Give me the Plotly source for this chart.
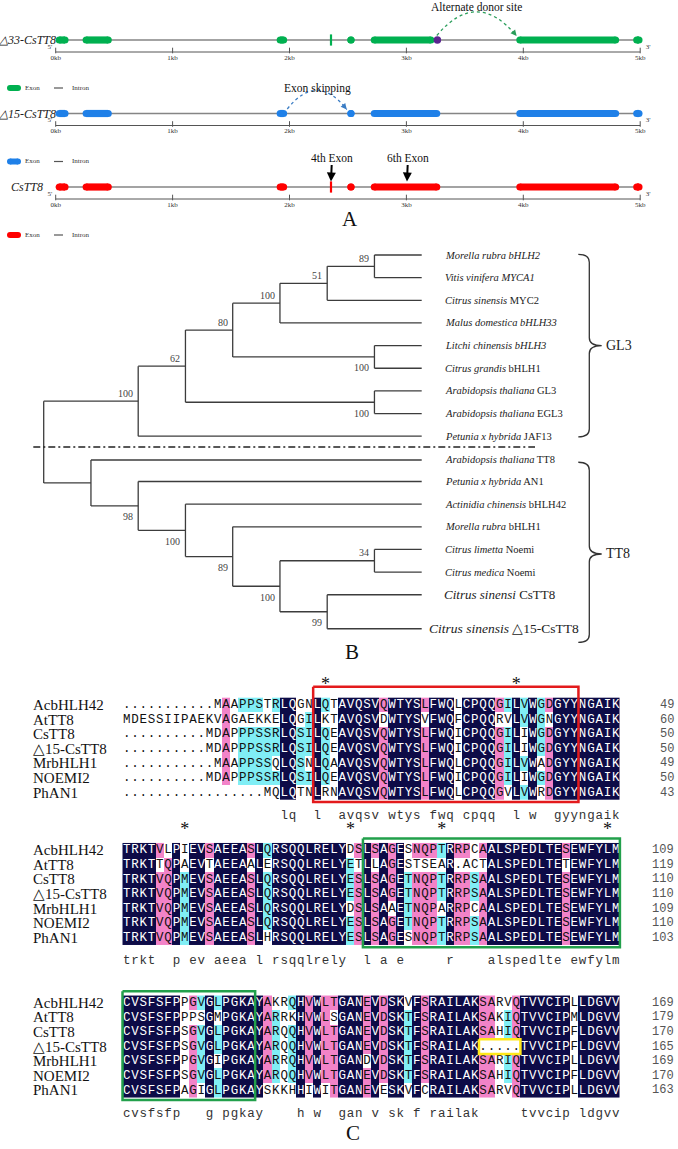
import plotly.graph_objects as go

# ======================= DATA =======================
# ---- Panel A: gene structures (kb) ----
isoform_names = ["△33-CsTT8", "△15-CsTT8", "CsTT8"]
isoform_colors = ["#00b050", "#1f80e8", "#ff0000"]
exon_start_kb = [
    [0.00, 0.23, 1.89, 2.495, 2.695, 3.94, 4.94],
    [0.00, 0.23, 1.89, 2.495, 2.695, 3.94, 4.94],
    [0.00, 0.23, 1.89, 2.495, 2.695, 3.94, 4.94],
]
exon_end_kb = [
    [0.11, 0.48, 1.98, 2.555, 3.24, 4.82, 5.02],
    [0.11, 0.48, 1.98, 2.555, 3.29, 4.82, 5.02],
    [0.11, 0.48, 1.98, 2.555, 3.29, 4.82, 5.02],
]
micro_exon_kb = [[2.355], [], [2.355]]
donor_site_kb = [[3.265], [], []]
gene_length_kb = [5.0, 5.0, 5.0]
scale_ticks_kb = [0, 1, 2, 3, 4, 5]
scale_tick_labels = ["0kb", "1kb", "2kb", "3kb", "4kb", "5kb"]
event_labels = ["Alternate donor site", "Exon skipping"]
event_track = [0, 1]
event_from_kb = [3.26, 1.981]
event_to_kb = [3.943, 2.49]
pointer_labels = ["4th Exon", "6th Exon"]
pointer_kb = [2.355, 3.005]
pointer_track = [2, 2]

# ---- Panel B: phylogenetic tree ----
leaf_labels = [
    "<i>Morella rubra bHLH2</i>", "<i>Vitis vinifera MYCA1</i>",
    "<i>Citrus sinensis</i> MYC2", "<i>Malus domestica bHLH33</i>",
    "<i>Litchi chinensis bHLH3</i>", "<i>Citrus grandis</i> bHLH1",
    "<i>Arabidopsis thaliana</i> GL3", "<i>Arabidopsis thaliana</i> EGL3",
    "<i>Petunia x hybrida</i> JAF13",
    "<i>Arabidopsis thaliana</i> TT8", "<i>Petunia x hybrida</i> AN1",
    "<i>Actinidia chinensis</i> bHLH42", "<i>Morella rubra</i> bHLH1",
    "<i>Citrus limetta</i> Noemi", "<i>Citrus medica</i> Noemi",
    "<i>Citrus sinensi</i> CsTT8", "<i>Citrus sinensis</i> △15-CsTT8",
]
leaf_slot = [0, 1, 2, 3, 4, 5, 6, 7, 8, 9.05, 10, 11, 12, 13, 14, 15, 16.5]
leaf_parent = ["n89", "n89", "n51", "n100b", "nLi", "nLi", "nAt", "nAt", "n100a",
               "nT", "n98", "n100c", "n89b", "n34", "n34", "n99", "n99"]
node_ids = ["root", "n100a", "n62", "n80", "n100b", "n51", "n89", "nLi", "nAt",
            "nT", "n98", "n100c", "n89b", "n100d", "n34", "n99"]
node_depth = [0, 2, 3, 4, 5, 6, 7, 7, 7, 1, 2, 3, 4, 5, 7, 6]
node_parent = [None, "root", "n100a", "n62", "n80", "n100b", "n51", "n80", "n62",
               "root", "nT", "n98", "n100c", "n89b", "n100d", "n100d"]
node_support = ["", "100", "62", "80", "100", "51", "89", "100", "100",
                "", "98", "100", "89", "100", "34", "99"]
node_label_side = ["", "above", "above", "above", "above", "above", "above", "below", "below",
                   "", "below", "below", "below", "below", "above", "below"]
leaf_depth = 8
clade_names = ["GL3", "TT8"]
clade_top = [-0.03, 9.15]
clade_bottom = [8.03, 17.1]
clade_tip = [4.0, 13.2]
separator_y = 8.48

# ---- Panel C: alignment ----
seq_names = ["AcbHLH42", "AtTT8", "CsTT8", "△15-CsTT8", "MrbHLH1", "NOEMI2", "PhAN1"]
aln_block1 = [
    "...........MAAPPSTRLQGNLQTAVQSVQWTYSLFWQLCPQQGILVWGDGYYNGAIK",
    "MDESSIIPAEKVAGAEKKELQGILKTAVQSVDWTYSVFWQFCPQQRVLVWGNGYYNGAIK",
    "..........MDAPPPSSRLQSILQEAVQSVQWTYSLFWQICPQQGILIWGDGYYNGAIK",
    "..........MDAPPPSSRLQSILQEAVQSVQWTYSLFWQICPQQGILIWGDGYYNGAIK",
    "...........MAAPPSSQLQSNLQAAVQSVQWTYSLFWQLCPQQGILVWADGYYNGAIK",
    "..........MDAPPPSSRLQSILQEAVQSVQWTYSLFWQICPQQGILIWGDGYYNGAIK",
    ".................MQLQTNLRNAVQSVQWTYSLFWQLCPQQGVLVWRDGYYNGAIK",
]
aln_block2 = [
    "TRKTVLPIEVSAEEASLQRSQQLRELYDSLSAGESNQPTRRPCAALSPEDLTESEWFYLM",
    "TRKTTQPAEVTAEEAALERSQQLRELYETLLAGESTSEAR.ACTALSPEDLTETEWFYLM",
    "TRKTVQPMEVSAEEASLQRSQQLRELYESLSAGETNQPTRRPSAALSPEDLTESEWFYLM",
    "TRKTVQPMEVSAEEASLQRSQQLRELYESLSAGETNQPTRRPSAALSPEDLTESEWFYLM",
    "TRKTVQPMEVSAEEASLQRSQQLRELYDSLSAAETNQPARRPCAALSPEDLTESEWFYLM",
    "TRKTVQPMEVSAEEASLQRSQQLRELYESLSAGETNQPTRRPSAALSPEDLTESEWFYLM",
    "TRKTVQPMEVSAEEASLHRSQQLRELYESLSAGESNQPTRRPSAALSPEDLTESEWFYLM",
]
aln_block3 = [
    "CVSFSFPPGVGLPGKAYAKRQHVWLTGANEVDSKVFSRAILAKSARVQTVVCIPLLDGVV",
    "CVSFSFPPPSGMPGKAYARRKHVWLSGANEVDSKTFSRAILAKSAKIQTVVCIPMLDGVV",
    "CVSFSFPSGVGLPGKAYARQQHVWLTGANEVDSKTFSRAILAKSAHIQTVVCIPFLDGVV",
    "CVSFSFPSGVGLPGKAYARQQHVWLTGANEVDSKTFSRAILAK.....TVVCIPFLDGVV",
    "CVSFSFPPGVGIPGKAYARRQHVWLTGANDVDSKTFSRAILAKSARIQTVVCIPLLDGVV",
    "CVSFSFPSGVGLPGKAYARQQHVWLTGANEVDSKTFSRAILAKSAHIQTVVCIPFLDGVV",
    "CVSFSFPAGIGLPGKAYSKKHHIWITGANEVESKVFCRAILAKSARVQTVVCIPLLDGVV",
]
aln_blocks = [aln_block1, aln_block2, aln_block3]
block_end_numbers = [
    [49, 60, 50, 50, 49, 50, 43],
    [109, 119, 110, 110, 109, 110, 103],
    [169, 179, 170, 165, 169, 170, 163],
]
block_row_offset = [0.0, 9.95, 20.4]
asterisk_cols = [[25, 48], [8, 28, 39, 59], []]
# highlight boxes: block, first col, last col, first row, last row, colour
box_block = [0, 1, 2, 2]
box_col_from = [24, 30, 1, 44]
box_col_to = [55, 60, 16, 48]
box_row_from = [0, 0, 0, 3]
box_row_to = [6, 6, 6, 3]
box_colors = ["#e31a1c", "#22a04b", "#22a04b", "#ffe81a"]

# ======================= FIGURE =======================
W, H = 678, 1149
SERIF = "Liberation Serif"
MONO = "Liberation Mono"
fig = go.Figure()

GA = dict(x0=55.7, kx=116.9, y0=40.0, ky=73.5, top=0, bot=250)
GB = dict(x0=43.7, kx=47.25, y0=255.0, ky=22.65, top=250, bot=662)
GC = dict(x0=118.36, kx=8.29, y0=705.0, ky=14.6, top=662, bot=1149)


def xr(g):
    return [(0 - g["x0"]) / g["kx"], (W - g["x0"]) / g["kx"]]


def yr(g):
    return [(g["bot"] - g["y0"]) / g["ky"], (g["top"] - g["y0"]) / g["ky"]]


def ydom(g):
    return [1 - g["bot"] / H, 1 - g["top"] / H]


def sc(**kw):
    base = dict(hoverinfo="skip", showlegend=False)
    base.update(kw)
    fig.add_trace(go.Scatter(**base))


annotations = []
shapes = []

# ---------------- Panel A ----------------
ax = dict(xaxis="x", yaxis="y")
pxA = lambda p: p / GA["ky"]
kbA = lambda p: p / GA["kx"]
for t, name in enumerate(isoform_names):
    col = isoform_colors[t]
    sc(x=[0, gene_length_kb[t]], y=[t, t], mode="lines",
       line=dict(color="#858585", width=1.4), **ax)
    r = kbA(3.6)
    xs, ys = [], []
    for s, e in zip(exon_start_kb[t], exon_end_kb[t]):
        a = s + r
        b = max(e - r, a)
        xs += [a, b, None]
        ys += [t, t, None]
    sc(x=xs, y=ys, mode="lines+markers", line=dict(color=col, width=7.2),
       marker=dict(color=col, size=7.2), **ax)
    if micro_exon_kb[t]:
        sc(x=micro_exon_kb[t], y=[t] * len(micro_exon_kb[t]), mode="markers",
           marker=dict(symbol="line-ns", size=8, line=dict(color=col, width=2.2)), **ax)
    if donor_site_kb[t]:
        sc(x=donor_site_kb[t], y=[t] * len(donor_site_kb[t]), mode="markers",
           marker=dict(color="#5a2590", size=7.5), **ax)
    # scale bar
    sy = t + pxA(12)
    sc(x=[scale_ticks_kb[0], scale_ticks_kb[-1]], y=[sy, sy], mode="lines",
       line=dict(color="#555", width=1), **ax)
    sc(x=scale_ticks_kb, y=[sy - pxA(1.5)] * len(scale_ticks_kb), mode="markers",
       marker=dict(symbol="line-ns", size=4, line=dict(color="#555", width=1)), **ax)
    sc(x=scale_ticks_kb, y=[sy + pxA(6)] * len(scale_ticks_kb), mode="text",
       text=scale_tick_labels, textfont=dict(family=SERIF, size=7, color="#333"), **ax)
    sc(x=[kbA(50 - 55.7), gene_length_kb[t] + kbA(8)], y=[t + pxA(7)] * 2, mode="text",
       text=["5'", "3'"], textfont=dict(family=SERIF, size=7, color="#333"), **ax)
    # track name
    annotations.append(dict(x=kbA(27 - 55.7), y=t, xref="x", yref="y", text=f"<i>{name}</i>",
                            showarrow=False, xanchor="center", yanchor="middle",
                            font=dict(family=SERIF, size=12, color="#222")))
    # legend
    ly = t + pxA(48)
    rl = kbA(3)
    sc(x=[kbA(7 - 55.7) + rl, kbA(21 - 55.7) - rl], y=[ly, ly], mode="lines+markers",
       line=dict(color=col, width=6), marker=dict(color=col, size=6), **ax)
    sc(x=[kbA(54 - 55.7), kbA(63 - 55.7)], y=[ly, ly], mode="lines",
       line=dict(color="#555", width=1.2), **ax)
    sc(x=[kbA(25 - 55.7), kbA(72 - 55.7)], y=[ly, ly], mode="text", text=["Exon", "Intron"],
       textposition="middle right", textfont=dict(family=SERIF, size=7, color="#333"), **ax)

# events with dotted arcs
event_colors = ["#2a9d5a", "#3b7dc4"]
event_rise_px = [24, 19]
event_text_px = [7, 88]
for i, lab in enumerate(event_labels):
    t = event_track[i]
    x1, x2 = event_from_kb[i], event_to_kb[i]
    y1 = t - pxA(4.5)
    y2 = t - pxA(4)
    xc = (x1 + x2) / 2
    yc = t - pxA(4) - pxA(2 * event_rise_px[i])
    shapes.append(dict(type="path", xref="x", yref="y",
                       path=f"M {x1},{y1} Q {xc},{yc} {x2},{y2}",
                       line=dict(color=event_colors[i], width=1.3, dash="dot")))
    annotations.append(dict(x=x2, y=y2, xref="x", yref="y", text="", showarrow=True,
                            ax=-5, ay=-6, arrowhead=2, arrowsize=1, arrowwidth=1.2,
                            arrowcolor=event_colors[i]))
    ty = (event_text_px[i] - GA["y0"]) / GA["ky"]
    annotations.append(dict(x=xc, y=ty, xref="x", yref="y", text=lab, showarrow=False,
                            font=dict(family=SERIF, size=11.5, color="#111")))

for i, lab in enumerate(pointer_labels):
    t = pointer_track[i]
    annotations.append(dict(x=pointer_kb[i], y=t - pxA(5.5), xref="x", yref="y", text=lab,
                            showarrow=True, ax=1, ay=-24, arrowhead=2, arrowsize=0.9,
                            arrowwidth=2, arrowcolor="#000", standoff=0,
                            font=dict(family=SERIF, size=11.5, color="#111")))

# ---------------- Panel B ----------------
bx = dict(xaxis="x2", yaxis="y2")
pos_y = {}
depth = {}
children = {n: [] for n in node_ids}
for i, p in enumerate(leaf_parent):
    lid = f"L{i}"
    pos_y[lid] = leaf_slot[i]
    depth[lid] = leaf_depth
    children[p].append(lid)
for nid, d, p in zip(node_ids, node_depth, node_parent):
    depth[nid] = d
    if p:
        children[p].append(nid)


def node_y(n):
    if n not in pos_y:
        ys = [node_y(c) for c in children[n]]
        pos_y[n] = (min(ys) + max(ys)) / 2
    return pos_y[n]


for n in node_ids:
    node_y(n)

tx, ty = [], []
for n in node_ids:
    cys = [pos_y[c] for c in children[n]]
    tx += [depth[n], depth[n], None]
    ty += [min(cys), max(cys), None]
    for c in children[n]:
        tx += [depth[n], depth[c], None]
        ty += [pos_y[c], pos_y[c], None]
sc(x=tx, y=ty, mode="lines", line=dict(color="#3c3c3c", width=1.3), **bx)

for n, sup, side in zip(node_ids, node_support, node_label_side):
    if not sup:
        continue
    annotations.append(dict(x=depth[n], y=pos_y[n], xref="x2", yref="y2", text=sup,
                            showarrow=False, xanchor="right", yanchor="middle",
                            xshift=-3, yshift=(8 if side == "above" else -11),
                            font=dict(family=SERIF, size=10, color="#444")))

for i, lab in enumerate(leaf_labels):
    size = 10.5
    shift = 21.5
    if i == 15:
        size, shift = 13, 20
    if i == 16:
        size, shift = 13.5, 5
    annotations.append(dict(x=leaf_depth, y=leaf_slot[i], xref="x2", yref="y2", text=lab,
                            showarrow=False, xanchor="left", yanchor="middle", xshift=shift,
                            font=dict(family=SERIF, size=size, color="#222")))

pxBx = lambda p: (p - GB["x0"]) / GB["kx"]
xa, xb, xt = pxBx(578.3), pxBx(589.3), pxBx(601.7)
for i, cname in enumerate(clade_names):
    y0, y1, ym = clade_top[i], clade_bottom[i], clade_tip[i]
    c = 0.35
    path = (f"M {xa},{y0} Q {xb},{y0} {xb},{y0 + c} L {xb},{ym - c} "
            f"Q {xb},{ym} {xt},{ym} Q {xb},{ym} {xb},{ym + c} "
            f"L {xb},{y1 - c} Q {xb},{y1} {xa},{y1}")
    shapes.append(dict(type="path", xref="x2", yref="y2", path=path,
                       line=dict(color="#333", width=1.3)))
    annotations.append(dict(x=xt, y=ym, xref="x2", yref="y2", text=cname, showarrow=False,
                            xanchor="left", yanchor="middle", xshift=2,
                            font=dict(family=SERIF, size=14, color="#222")))

sc(x=[pxBx(33.3), pxBx(535)], y=[separator_y, separator_y], mode="lines",
   line=dict(color="#222", width=1.6, dash="7px,3px,2px,3px"), **bx)

# ---------------- Panel C ----------------
cx = dict(xaxis="x3", yaxis="y3")
NAVY, PINK, CYAN = "#0d0b47", "#f283c8", "#80eef5"
cscale = [[0, "#ffffff"], [0.1667, "#ffffff"], [0.1667, CYAN], [0.5, CYAN],
          [0.5, PINK], [0.8333, PINK], [0.8333, NAVY], [1, NAVY]]


def shade(block):
    n = len(block)
    codes = [[0] * len(block[0]) for _ in block]
    for c in range(len(block[0])):
        col = [s[c] for s in block]
        res = [ch for ch in col if ch.isalpha()]
        if not res:
            continue
        best = max(sorted(set(res)), key=res.count)
        k = res.count(best)
        lvl = 3 if k == n else (2 if k / n >= 0.75 else (1 if k / n >= 0.5 else 0))
        for r, ch in enumerate(col):
            if ch == best:
                codes[r][c] = lvl
    return codes


for b, block in enumerate(aln_blocks):
    off = block_row_offset[b]
    ncol = len(block[0])
    codes = shade(block)
    rows_y = [off + r for r in range(len(block))]
    fig.add_trace(go.Heatmap(z=codes, x=list(range(1, ncol + 1)), y=rows_y, colorscale=cscale,
                             zmin=0, zmax=3, showscale=False, hoverinfo="skip", **cx))
    xs, ys, txt, cols = [], [], [], []
    for r, s in enumerate(block):
        for c, ch in enumerate(s):
            xs.append(c + 1)
            ys.append(off + r)
            txt.append(ch)
            cols.append("#ffffff" if codes[r][c] == 3 else "#111111")
    sc(x=xs, y=ys, mode="text", text=txt, textposition="middle center",
       textfont=dict(family=MONO, size=12.5, color=cols), **cx)
    # consensus
    cons_x, cons_t = [], []
    for c in range(ncol):
        col = [s[c] for s in block]
        if col[0].isalpha() and all(ch == col[0] for ch in col):
            cons_x.append(c + 1)
            cons_t.append(col[0].lower())
    sc(x=cons_x, y=[off + 7.6] * len(cons_x), mode="text", text=cons_t,
       textposition="middle center", textfont=dict(family=MONO, size=12.5, color="#333"), **cx)
    # names and numbers
    for r, nm in enumerate(seq_names):
        annotations.append(dict(x=(31 - GC["x0"]) / GC["kx"], y=off + r, xref="x3", yref="y3",
                                text=nm, showarrow=False, xanchor="left", yanchor="middle",
                                font=dict(family=SERIF, size=15, color="#111")))
        annotations.append(dict(x=(676 - GC["x0"]) / GC["kx"], y=off + r, xref="x3", yref="y3",
                                text=str(block_end_numbers[b][r]), showarrow=False,
                                xanchor="right", yanchor="middle",
                                font=dict(family=MONO, size=12, color="#555")))
    if asterisk_cols[b]:
        sc(x=asterisk_cols[b], y=[off - 1.35] * len(asterisk_cols[b]), mode="text",
           text=["*"] * len(asterisk_cols[b]), textposition="middle center",
           textfont=dict(family=SERIF, size=18, color="#111"), **cx)

for i in range(len(box_block)):
    off = block_row_offset[box_block[i]]
    x0, x1 = box_col_from[i] - 0.5, box_col_to[i] + 0.5
    pad_top = 0.75 if box_block[i] == 0 else 0.3
    y0 = off + box_row_from[i] - 0.5 - (pad_top if box_row_from[i] == 0 else 0)
    y1 = off + box_row_to[i] + 0.5 + (0.15 if box_row_to[i] == 6 else 0)
    sc(x=[x0, x1, x1, x0, x0], y=[y0, y0, y1, y1, y0], mode="lines",
       line=dict(color=box_colors[i], width=2.5), **cx)

# panel letters
for letter, px, py in [("A", 350, 219), ("B", 352, 652), ("C", 353, 1133)]:
    annotations.append(dict(x=px / W, y=1 - py / H, xref="paper", yref="paper", text=letter,
                            showarrow=False, xanchor="center", yanchor="middle",
                            font=dict(family=SERIF, size=21, color="#111")))

hid = dict(visible=False, showgrid=False, zeroline=False, fixedrange=True)
fig.update_layout(
    width=W, height=H, margin=dict(l=0, r=0, t=0, b=0),
    paper_bgcolor="white", plot_bgcolor="rgba(0,0,0,0)",
    xaxis=dict(domain=[0, 1], range=xr(GA), anchor="y", **hid),
    yaxis=dict(domain=ydom(GA), range=yr(GA), anchor="x", **hid),
    xaxis2=dict(domain=[0, 1], range=xr(GB), anchor="y2", **hid),
    yaxis2=dict(domain=ydom(GB), range=yr(GB), anchor="x2", **hid),
    xaxis3=dict(domain=[0, 1], range=xr(GC), anchor="y3", **hid),
    yaxis3=dict(domain=ydom(GC), range=yr(GC), anchor="x3", **hid),
    annotations=annotations, shapes=shapes, showlegend=False,
)
fig.write_html("out.html", config={"displayModeBar": False},
               post_script="document.body.style.margin='0px';document.body.style.overflow='hidden';")
